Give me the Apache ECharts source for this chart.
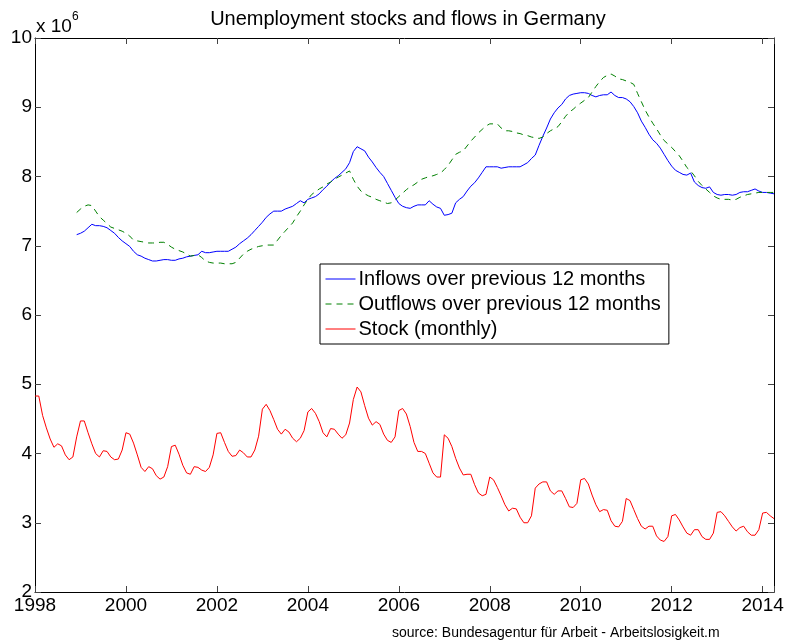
<!DOCTYPE html>
<html>
<head>
<meta charset="utf-8">
<script src="https://cdn.jsdelivr.net/npm/echarts@6/dist/echarts.min.js"></script>
<style>
  html, body { margin: 0; padding: 0; background: #fff; }
  #main { width: 787px; height: 644px; }
</style>
</head>
<body>
<div id="main"></div>
<script>
// months counted from Jan 1998
var startYear = 1998;
var stockStart = 0;
var flowStart = 11; // Dec 1998, first full 12 month window

// stock of unemployed (millions), monthly
var stock = [
  4.83, 4.83, 4.55, 4.37, 4.21, 4.09, 4.14, 4.11, 3.98, 3.91, 3.95, 4.24,
  4.47, 4.47, 4.30, 4.14, 4.00, 3.95, 4.04, 4.03, 3.95, 3.91, 3.92, 4.05,
  4.30, 4.28, 4.15, 3.98, 3.80, 3.74, 3.81, 3.78, 3.68, 3.63, 3.66, 3.81,
  4.10, 4.12, 3.99, 3.83, 3.72, 3.70, 3.81, 3.80, 3.76, 3.74, 3.80, 3.98,
  4.29, 4.30, 4.16, 4.03, 3.96, 3.97, 4.05, 4.01, 3.95, 3.95, 4.05, 4.25,
  4.64, 4.71, 4.62, 4.49, 4.35, 4.28, 4.35, 4.31, 4.22, 4.17, 4.22, 4.33,
  4.60, 4.65, 4.58, 4.46, 4.30, 4.24, 4.36, 4.35, 4.28, 4.22, 4.27, 4.44,
  4.78, 4.96, 4.89, 4.69, 4.51, 4.41, 4.46, 4.42, 4.28, 4.19, 4.16, 4.24,
  4.62, 4.65, 4.57, 4.39, 4.16, 4.03, 4.03, 4.00, 3.86, 3.72, 3.66, 3.66,
  4.27, 4.22, 4.10, 3.93, 3.79, 3.69, 3.70, 3.70, 3.55, 3.43, 3.39, 3.41,
  3.66, 3.62, 3.51, 3.39, 3.26, 3.17, 3.21, 3.20, 3.08, 3.00, 3.00, 3.10,
  3.50, 3.56, 3.59, 3.59, 3.46, 3.41, 3.46, 3.46, 3.35, 3.23, 3.22, 3.28,
  3.62, 3.64, 3.56, 3.40, 3.26, 3.16, 3.19, 3.18, 3.03, 2.95, 2.94, 3.02,
  3.35, 3.32, 3.19, 3.06, 2.95, 2.91, 2.95, 2.95, 2.81, 2.75, 2.73, 2.80,
  3.10, 3.12, 3.04, 2.94, 2.85, 2.82, 2.90, 2.90, 2.80, 2.76, 2.76, 2.85,
  3.15, 3.16, 3.10, 3.02, 2.94, 2.88, 2.93, 2.95, 2.87, 2.82, 2.82, 2.90,
  3.14, 3.15, 3.10, 3.06
];

// inflows over previous 12 months (millions), from Dec 1998
var inflow = [
  7.16,
  7.18, 7.21, 7.26, 7.31, 7.29, 7.29, 7.28, 7.26, 7.22, 7.18, 7.12, 7.07,
  7.03, 6.99, 6.92, 6.87, 6.85, 6.82, 6.80, 6.78, 6.78, 6.79, 6.80, 6.80,
  6.79, 6.79, 6.81, 6.82, 6.84, 6.85, 6.86, 6.87, 6.92, 6.90, 6.90, 6.91,
  6.92, 6.92, 6.92, 6.92, 6.95, 6.98, 7.03, 7.07, 7.11, 7.16, 7.22, 7.28,
  7.34, 7.41, 7.46, 7.50, 7.50, 7.50, 7.53, 7.55, 7.57, 7.61, 7.65, 7.62,
  7.67, 7.69, 7.71, 7.75, 7.81, 7.86, 7.92, 7.97, 8.01, 8.06, 8.11, 8.20,
  8.36, 8.43, 8.40, 8.37, 8.28, 8.21, 8.13, 8.06, 8.00, 7.90, 7.80, 7.70,
  7.61, 7.57, 7.55, 7.54, 7.57, 7.59, 7.59, 7.59, 7.65, 7.60, 7.56, 7.54,
  7.44, 7.45, 7.47, 7.62, 7.67, 7.71, 7.79, 7.86, 7.91, 7.98, 8.06, 8.14,
  8.14, 8.14, 8.14, 8.12, 8.13, 8.14, 8.14, 8.14, 8.14, 8.17, 8.20, 8.26,
  8.31, 8.45, 8.58, 8.70, 8.83, 8.92, 8.99, 9.04, 9.12, 9.17, 9.19, 9.20,
  9.21, 9.21, 9.20, 9.17, 9.15, 9.17, 9.18, 9.18, 9.22, 9.17, 9.14, 9.14,
  9.12, 9.08, 9.01, 8.92, 8.80, 8.71, 8.61, 8.53, 8.48, 8.41, 8.32, 8.23,
  8.15, 8.09, 8.06, 8.03, 8.02, 8.05, 7.92, 7.87, 7.84, 7.83, 7.85, 7.77,
  7.74, 7.73, 7.74, 7.74, 7.73, 7.74, 7.77, 7.78, 7.78, 7.80, 7.82, 7.79,
  7.77, 7.77, 7.76, 7.75
];

// outflows over previous 12 months (millions), from Dec 1998
var outflow = [
  7.48,
  7.53, 7.57, 7.59, 7.58, 7.50, 7.42, 7.37, 7.32, 7.27, 7.25, 7.23, 7.21,
  7.18, 7.14, 7.08, 7.07, 7.06, 7.05, 7.04, 7.04, 7.04, 7.05, 7.05, 7.02,
  6.98, 6.95, 6.93, 6.91, 6.88, 6.85, 6.86, 6.87, 6.83, 6.78, 6.76, 6.75,
  6.75, 6.75, 6.74, 6.74, 6.74, 6.76, 6.82, 6.88, 6.92, 6.95, 6.97, 6.99,
  7.00, 7.01, 7.01, 7.01, 7.08, 7.15, 7.21, 7.27, 7.33, 7.42, 7.50, 7.59,
  7.67, 7.74, 7.78, 7.82, 7.85, 7.89, 7.92, 7.96, 7.99, 8.02, 8.05, 8.08,
  7.96, 7.86, 7.79, 7.75, 7.72, 7.70, 7.67, 7.65, 7.63, 7.61, 7.62, 7.66,
  7.71, 7.76, 7.81, 7.85, 7.88, 7.92, 7.96, 7.98, 8.00, 8.01, 8.03, 8.05,
  8.10, 8.16, 8.24, 8.32, 8.35, 8.37, 8.44, 8.51, 8.57, 8.63, 8.68, 8.73,
  8.76, 8.76, 8.76, 8.70, 8.66, 8.66, 8.65, 8.63, 8.62, 8.60, 8.59, 8.57,
  8.56, 8.55, 8.57, 8.62, 8.66, 8.69, 8.72, 8.79, 8.87, 8.93, 8.97, 9.02,
  9.06, 9.10, 9.14, 9.22, 9.30, 9.37, 9.43, 9.46, 9.48, 9.45, 9.41, 9.40,
  9.38, 9.36, 9.33, 9.20, 9.08, 8.96, 8.86, 8.77, 8.69, 8.60, 8.52, 8.47,
  8.42, 8.36, 8.30, 8.22, 8.13, 8.08, 8.01, 7.93, 7.87, 7.82, 7.77, 7.72,
  7.69, 7.67, 7.67, 7.67, 7.66, 7.67, 7.70, 7.72, 7.74, 7.75, 7.76, 7.77,
  7.77, 7.77, 7.77, 7.77
];

var yTicks = [2, 3, 4, 5, 6, 7, 8, 9, 10];
var xTicks = [1998, 2000, 2002, 2004, 2006, 2008, 2010, 2012, 2014];

function toPoints(arr, start) {
  return arr.map(function (v, i) {
    return [startYear + (start + i) / 12, v];
  });
}

var font = 'Liberation Sans, Arial, sans-serif';
var myChart = echarts.init(document.getElementById('main'));

var tickStyle = { show: true, inside: true, length: 6, lineStyle: { color: '#444', width: 1 } };
var lineAx = { show: true, onZero: false, lineStyle: { color: '#000', width: 1 } };

var option = {
  backgroundColor: '#fff',
  animation: false,
  title: {
    text: 'Unemployment stocks and flows in Germany',
    left: 403,
    top: 4,
    textAlign: 'center',
    textStyle: { fontFamily: font, fontSize: 20, fontWeight: 'normal', color: '#000' }
  },
  grid: { left: 35, right: 13, top: 38, bottom: 52, containLabel: false },
  legend: {
    orient: 'vertical',
    left: 320,
    top: 264,
    padding: [5, 8, 5, 5],
    itemWidth: 30,
    itemHeight: 14,
    itemGap: 5,
    borderColor: '#000',
    borderWidth: 1,
    backgroundColor: '#fff',
    itemStyle: { opacity: 0 },
    lineStyle: { width: 1 },
    textStyle: { fontFamily: font, fontSize: 20, color: '#000', padding: [0, 0, 0, -2] },
    data: ['Inflows over previous 12 months', 'Outflows over previous 12 months', 'Stock (monthly)']
  },
  xAxis: [{
    type: 'value',
    min: 1998,
    max: 2014.25,
    interval: 2,
    axisLine: lineAx,
    axisTick: tickStyle,
    splitLine: { show: false },
    axisLabel: {
      margin: 4,
      fontFamily: font, fontSize: 19, color: '#000',
      formatter: function (v) { return xTicks.indexOf(v) >= 0 ? String(v) : ''; }
    }
  }, {
    type: 'value', position: 'top',
    min: 1998, max: 2014.25, interval: 2,
    axisLine: lineAx, axisTick: tickStyle,
    axisLabel: { show: false }, splitLine: { show: false }
  }],
  yAxis: [{
    type: 'value',
    min: 2, max: 10, interval: 1,
    axisLine: lineAx,
    axisTick: tickStyle,
    splitLine: { show: false },
    axisLabel: {
      margin: 3,
      fontFamily: font, fontSize: 19, color: '#000',
      formatter: function (v) { return yTicks.indexOf(v) >= 0 ? String(v) : ''; }
    }
  }, {
    type: 'value', position: 'right',
    min: 2, max: 10, interval: 1,
    axisLine: lineAx, axisTick: tickStyle,
    axisLabel: { show: false }, splitLine: { show: false }
  }],
  series: [
    {
      name: 'Inflows over previous 12 months',
      type: 'line',
      data: toPoints(inflow, flowStart),
      showSymbol: false, symbol: 'none',
      lineStyle: { color: '#0000ff', width: 1 },
      itemStyle: { color: '#0000ff' }
    },
    {
      name: 'Outflows over previous 12 months',
      type: 'line',
      data: toPoints(outflow, flowStart),
      showSymbol: false, symbol: 'none',
      lineStyle: { color: '#008000', width: 1, type: [6, 5] },
      itemStyle: { color: '#008000' }
    },
    {
      name: 'Stock (monthly)',
      type: 'line',
      data: toPoints(stock, stockStart),
      showSymbol: false, symbol: 'none',
      lineStyle: { color: '#ff0000', width: 1 },
      itemStyle: { color: '#ff0000' }
    }
  ],
  graphic: [
    { type: 'text', left: 36, top: 17, style: { text: 'x 10', font: '19px ' + font, fill: '#000' } },
    { type: 'text', left: 72, top: 11, style: { text: '6', font: '12px ' + font, fill: '#000' } },
    { type: 'text', left: 392, top: 626, style: { text: 'source: Bundesagentur für Arbeit - Arbeitslosigkeit.m', font: '14px ' + font, fill: '#000' } }
  ]
};

myChart.setOption(option);
</script>
</body>
</html>
